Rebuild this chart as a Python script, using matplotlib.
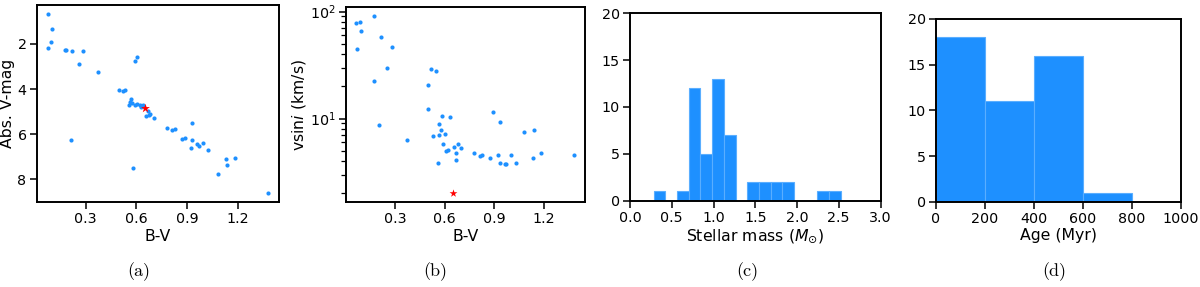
import numpy as np
import matplotlib
matplotlib.use('Agg')
from matplotlib import pyplot as plt

# (a) colour-magnitude
bv_a = [0.075, 0.101, 0.093, 0.075, 0.178, 0.182, 0.221, 0.284, 0.259, 0.373,
        0.211, 0.582, 0.590, 0.606, 0.499, 0.519, 0.533, 0.570, 0.559, 0.555,
        0.572, 0.590, 0.604, 0.622, 0.636, 0.628, 0.667, 0.675, 0.657, 0.683,
        0.701, 0.778, 0.809, 0.825, 0.872, 0.890, 0.930, 0.930, 0.920, 0.961,
        0.971, 0.995, 1.026, 1.080, 1.131, 1.137, 1.182, 1.378]
mv_a = [0.67, 1.33, 1.91, 2.18, 2.25, 2.27, 2.31, 2.33, 2.87, 3.24,
        6.27, 7.51, 2.75, 2.58, 4.02, 4.10, 4.02, 4.42, 4.56, 4.72,
        4.60, 4.72, 4.68, 4.72, 4.70, 4.79, 4.99, 5.15, 5.21, 5.09,
        5.28, 5.74, 5.83, 5.75, 6.20, 6.15, 5.50, 6.24, 6.61, 6.45,
        6.52, 6.39, 6.69, 7.78, 7.11, 7.38, 7.07, 8.62]

# (b) vsini vs B-V
bv_b = [0.064, 0.084, 0.094, 0.066, 0.171, 0.213, 0.278, 0.252, 0.173, 0.203,
        0.369, 0.516, 0.548, 0.498, 0.498, 0.526, 0.558, 0.568, 0.578, 0.582,
        0.566, 0.589, 0.599, 0.605, 0.621, 0.629, 0.659, 0.669, 0.669, 0.679,
        0.701, 0.778, 0.812, 0.827, 0.877, 0.893, 0.921, 0.934, 0.936, 0.964,
        0.974, 1.000, 1.031, 1.083, 1.133, 1.139, 1.186, 1.385]
vsini_b = [77.8, 79.5, 65.6, 44.9, 90.5, 58.0, 46.6, 29.6, 22.4, 8.67,
           6.33, 29.0, 27.6, 20.5, 12.4, 6.9, 3.81, 8.98, 7.78, 10.5,
           7.05, 5.85, 7.15, 4.93, 5.11, 10.4, 5.44, 4.82, 4.12, 5.73,
           5.33, 4.82, 4.52, 4.62, 4.31, 11.6, 4.62, 9.37, 3.84, 3.73,
           3.73, 4.62, 3.81, 7.51, 4.33, 7.9, 4.79, 4.62]

# the Sun
sun_bv = 0.65
sun_mv = 4.83
sun_vsini = 2.0

# (c) stellar mass histogram
mass_edges = [0.284, 0.424, 0.564, 0.704, 0.844, 0.984, 1.124, 1.264, 1.404,
              1.544, 1.684, 1.824, 1.964, 2.104, 2.244, 2.384, 2.524]
mass_counts = [1, 0, 1, 12, 5, 13, 7, 0, 2, 2, 2, 2, 0, 0, 1, 1]

# (d) age histogram
age_edges = [0, 200, 400, 600, 800]
age_counts = [18, 11, 16, 1]

blue = '#1e90ff'
edge = '#5aaeff'

plt.rcParams['font.family'] = 'DejaVu Sans'
plt.rcParams['xtick.labelsize'] = 10.3
plt.rcParams['ytick.labelsize'] = 10.3
plt.rcParams['axes.labelsize'] = 11.3
plt.rcParams['axes.linewidth'] = 1.4
plt.rcParams['xtick.major.width'] = 1.1
plt.rcParams['ytick.major.width'] = 1.1
plt.rcParams['xtick.major.size'] = 4.8
plt.rcParams['ytick.major.size'] = 4.8
plt.rcParams['ytick.minor.size'] = 3.6
plt.rcParams['ytick.minor.width'] = 0.9
plt.rcParams['xtick.major.pad'] = 2.5
plt.rcParams['ytick.major.pad'] = 2.5
plt.rcParams['axes.labelpad'] = 1.5

W, H = 1200, 287
fig = plt.figure(figsize=(12, 2.87), dpi=100)

def box(l, r, t, b):
    return [l / W, 1 - b / H, (r - l) / W, (b - t) / H]

ax1 = fig.add_axes(box(36.7, 279, 5, 202.3))
ax2 = fig.add_axes(box(345.5, 585, 7.3, 202.3))
ax3 = fig.add_axes(box(630, 880.5, 13.3, 200.5))
ax4 = fig.add_axes(box(936, 1181, 19, 201.7))

ax1.scatter(bv_a, mv_a, s=9, color=blue, linewidths=0)
ax1.scatter([sun_bv], [sun_mv], s=45, marker='*', color='red', linewidths=0)
ax1.invert_yaxis()
ax1.set_xticks([0.3, 0.6, 0.9, 1.2])
ax1.set_yticks([2, 4, 6, 8])
ax1.set_xlabel('B-V')
ax1.set_ylabel('Abs. V-mag')

ax2.scatter(bv_b, vsini_b, s=9, color=blue, linewidths=0)
ax2.scatter([sun_bv], [sun_vsini], s=35, marker='*', color='red', linewidths=0)
ax2.set_yscale('log')
ax2.set_xticks([0.3, 0.6, 0.9, 1.2])
ax2.set_xlabel('B-V')
ax2.set_ylabel(r'vsin$i$ (km/s)')

ax3.bar(mass_edges[:-1], mass_counts, width=np.diff(mass_edges), align='edge',
        color=blue, edgecolor=edge, linewidth=0.8)
ax3.set_xlim(0, 3)
ax3.set_ylim(0, 20)
ax3.set_xticks([0.0, 0.5, 1.0, 1.5, 2.0, 2.5, 3.0])
ax3.set_yticks([0, 5, 10, 15, 20])
ax3.set_xlabel(r'Stellar mass ($M_{\odot}$)')

ax4.bar(age_edges[:-1], age_counts, width=np.diff(age_edges), align='edge',
        color=blue, edgecolor=edge, linewidth=0.8)
ax4.set_xlim(0, 1000)
ax4.set_ylim(0, 20)
ax4.set_xticks([0, 200, 400, 600, 800, 1000])
ax4.set_yticks([0, 5, 10, 15, 20])
ax4.set_xlabel('Age (Myr)')

# subfigure captions
for lbl, xc in zip(['(a)', '(b)', '(c)', '(d)'], [139, 435, 747, 1054]):
    fig.text(xc / W, 1 - 272 / H, lbl, family='cmr10', fontsize=13,
             ha='center', va='center')

fig.savefig('out.png', dpi=100)
